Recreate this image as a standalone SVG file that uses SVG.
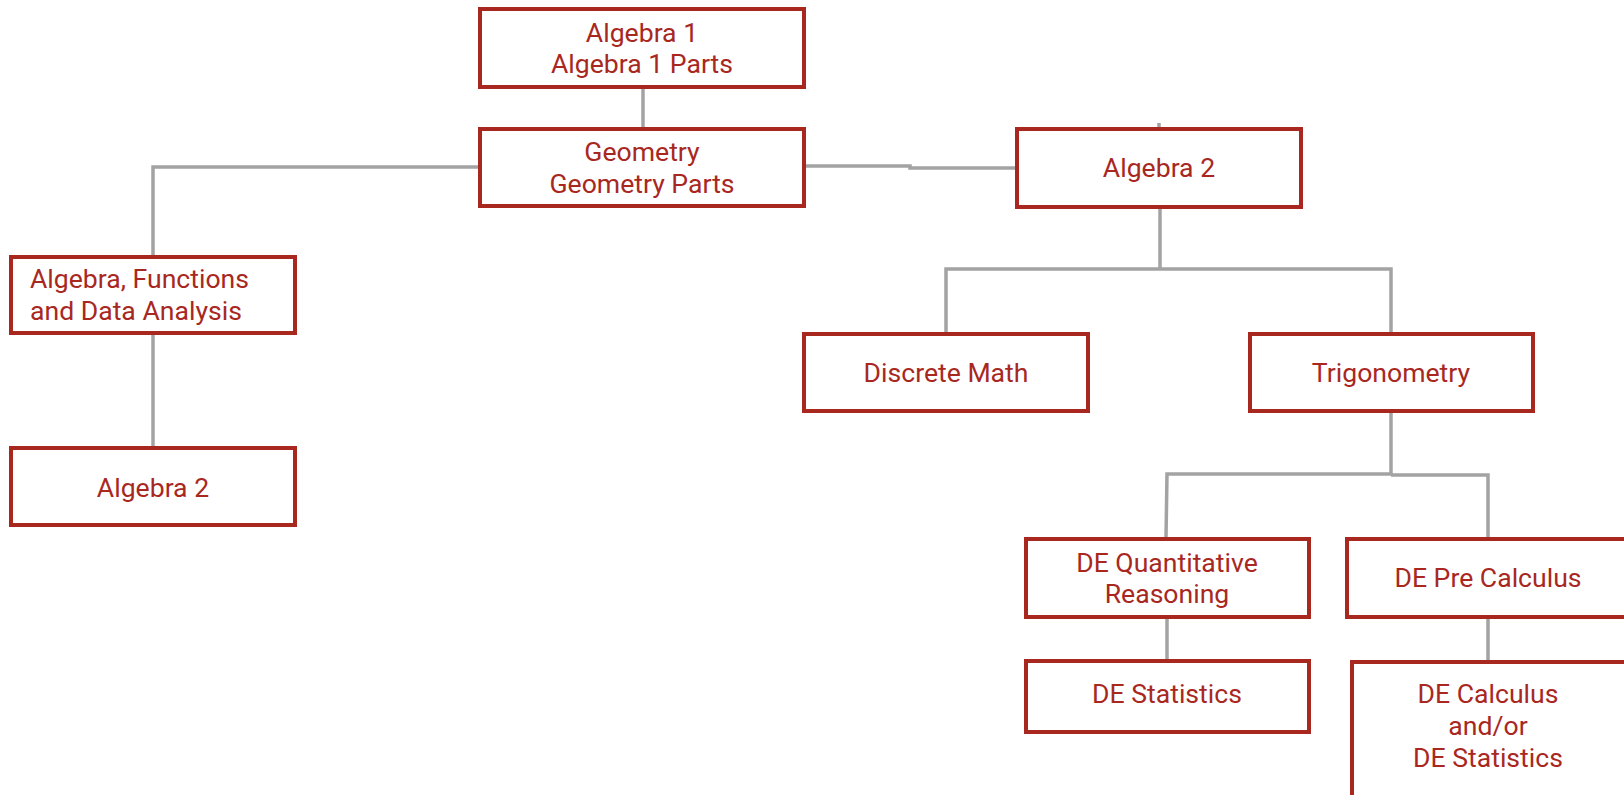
<svg xmlns="http://www.w3.org/2000/svg" width="1624" height="795" viewBox="0 0 1624 795">
<style>
.box{fill:#fff;stroke:#a8281f;stroke-width:4}
.t{font-family:Roboto,"Liberation Sans",sans-serif;font-size:26.6px;fill:#a8281f;text-anchor:middle}
.l{text-anchor:start}
.c{fill:none;stroke:#a3a3a3;stroke-width:3.5}
</style>
<rect width="1624" height="795" fill="#fff"/>
<g id="connectors">
<path class="c" d="M643 87V128"/>
<path class="c" d="M480 167H153V257"/>
<path class="c" d="M153 333V448"/>
<path class="c" d="M805 166H910V168H1017"/>
<path class="c" d="M1159 123V129"/>
<path class="c" d="M1160 207V269"/>
<path class="c" d="M946 333V269H1391V333"/>
<path class="c" d="M1391 410V474"/>
<path class="c" d="M1166 538L1167 474H1391"/>
<path class="c" d="M1391 475H1488V538"/>
<path class="c" d="M1167 617V661"/>
<path class="c" d="M1488 617V662"/>
</g>
<g id="algebra1">
<rect class="box" x="480" y="9" width="324" height="78"/>
<text class="t" x="642" y="42">Algebra 1</text>
<text class="t" x="642" y="73">Algebra 1 Parts</text>
</g>
<g id="geometry">
<rect class="box" x="480" y="129" width="324" height="77"/>
<text class="t" x="642" y="161">Geometry</text>
<text class="t" x="642" y="193">Geometry Parts</text>
</g>
<g id="algebra2-right">
<rect class="box" x="1017" y="129" width="284" height="78"/>
<text class="t" x="1159" y="177">Algebra 2</text>
</g>
<g id="afda">
<rect class="box" x="11" y="257" width="284" height="76"/>
<text class="t l" x="30" y="288">Algebra, Functions</text>
<text class="t l" x="30" y="320">and Data Analysis</text>
</g>
<g id="algebra2-left">
<rect class="box" x="11" y="448" width="284" height="77"/>
<text class="t" x="153" y="497">Algebra 2</text>
</g>
<g id="discrete">
<rect class="box" x="804" y="334" width="284" height="77"/>
<text class="t" x="946" y="382">Discrete Math</text>
</g>
<g id="trig">
<rect class="box" x="1250" y="334" width="283" height="77"/>
<text class="t" x="1391" y="382">Trigonometry</text>
</g>
<g id="deqr">
<rect class="box" x="1026" y="539" width="283" height="78"/>
<text class="t" x="1167" y="572">DE Quantitative</text>
<text class="t" x="1167" y="603">Reasoning</text>
</g>
<g id="deprecalc">
<rect class="box" x="1347" y="539" width="284" height="78"/>
<text class="t" x="1488" y="587">DE Pre Calculus</text>
</g>
<g id="destats">
<rect class="box" x="1026" y="661" width="283" height="71"/>
<text class="t" x="1167" y="703">DE Statistics</text>
</g>
<g id="decalc">
<rect class="box" x="1352" y="662" width="284" height="150"/>
<text class="t" x="1488" y="703">DE Calculus</text>
<text class="t" x="1488" y="735">and/or</text>
<text class="t" x="1488" y="767">DE Statistics</text>
</g>
</svg>
